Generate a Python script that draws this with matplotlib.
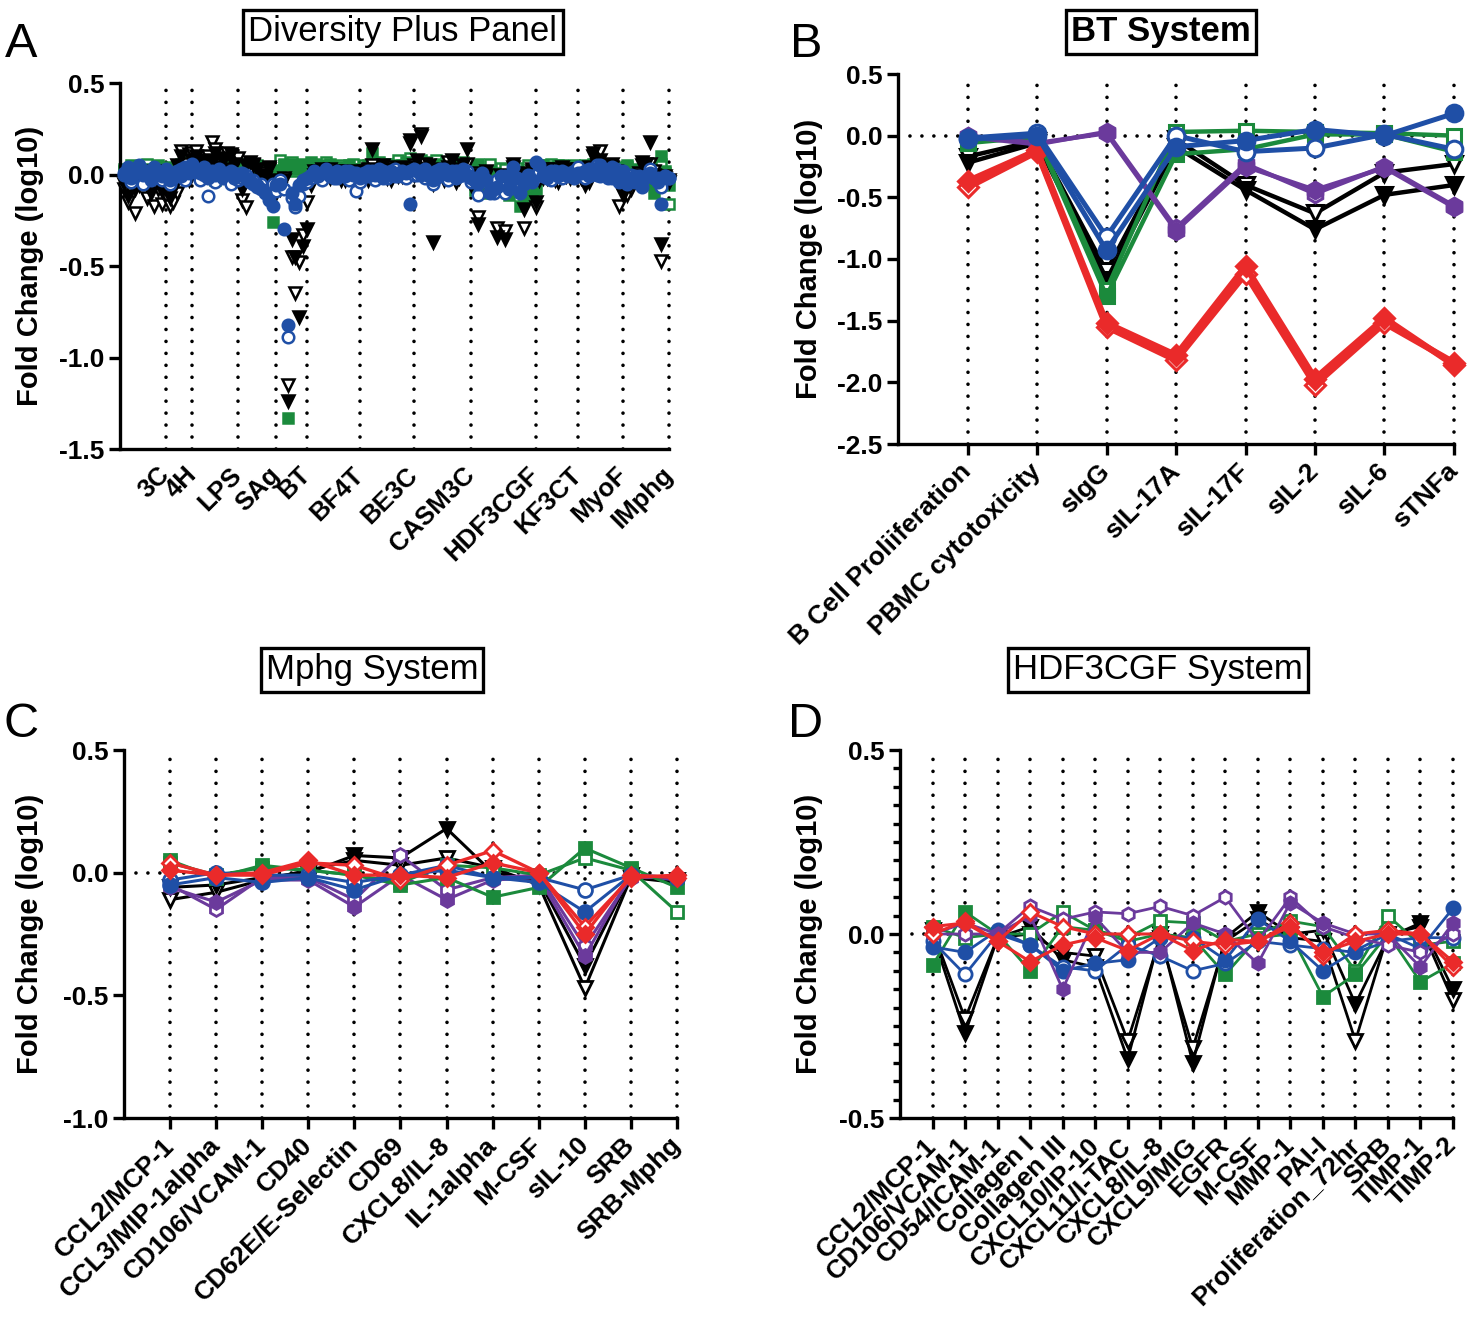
import matplotlib
matplotlib.use("Agg")
import matplotlib.pyplot as plt
from matplotlib.ticker import MultipleLocator

plt.rcParams['font.family'] = ['Liberation Sans', 'DejaVu Sans']

# ---------------- Panel B : BT system ----------------
bt_labels = ["B Cell Proliiferation", "PBMC cytotoxicity", "sIgG", "sIL-17A",
             "sIL-17F", "sIL-2", "sIL-6", "sTNFa"]
bt_black_filled = [-0.22, -0.06, -1.17, -0.09, -0.44, -0.76, -0.48, -0.40]
bt_black_open = [-0.17, -0.04, -1.10, -0.03, -0.40, -0.63, -0.30, -0.23]
bt_green_filled = [-0.06, -0.01, -1.30, -0.15, -0.11, 0.01, 0.01, -0.13]
bt_green_open = [-0.04, 0.00, -1.25, 0.03, 0.04, 0.03, 0.02, 0.00]
bt_blue_filled = [-0.03, 0.00, -0.93, -0.09, -0.04, 0.05, 0.00, 0.18]
bt_blue_open = [-0.02, 0.02, -0.82, 0.00, -0.13, -0.10, 0.01, -0.11]
bt_purple_filled = [0.00, -0.06, 0.02, -0.77, -0.25, -0.44, -0.26, -0.58]
bt_purple_open = [-0.01, -0.07, 0.03, -0.75, -0.23, -0.47, -0.25, -0.57]
bt_red_filled = [-0.37, -0.12, -1.52, -1.78, -1.06, -1.97, -1.48, -1.86]
bt_red_open = [-0.42, -0.13, -1.55, -1.82, -1.12, -2.02, -1.52, -1.84]

# ---------------- Panel C : Mphg system ----------------
mp_labels = ["CCL2/MCP-1", "CCL3/MIP-1alpha", "CD106/VCAM-1", "CD40",
             "CD62E/E-Selectin", "CD69", "CXCL8/IL-8", "IL-1alpha", "M-CSF",
             "sIL-10", "SRB", "SRB-Mphg"]
mp_black_filled = [-0.06, -0.05, -0.02, 0.00, 0.07, 0.06, 0.18, 0.00, -0.03, -0.38, -0.01, -0.03]
mp_black_open = [-0.11, -0.08, -0.03, 0.01, 0.05, 0.03, 0.06, 0.02, -0.05, -0.47, -0.02, -0.04]
mp_green_filled = [0.05, -0.02, 0.03, 0.01, -0.01, -0.05, -0.02, -0.10, -0.06, 0.10, 0.02, -0.06]
mp_green_open = [0.04, -0.01, 0.02, 0.01, -0.01, -0.04, 0.03, 0.02, -0.01, 0.06, 0.01, -0.16]
mp_blue_filled = [-0.05, -0.02, -0.04, -0.02, -0.07, -0.01, 0.01, -0.02, -0.04, -0.16, -0.01, -0.02]
mp_blue_open = [-0.03, 0.00, -0.01, -0.01, -0.04, -0.01, 0.03, -0.02, -0.02, -0.07, -0.01, -0.02]
mp_purple_filled = [-0.06, -0.12, -0.03, -0.03, -0.14, -0.01, -0.11, -0.03, -0.02, -0.34, -0.01, -0.03]
mp_purple_open = [-0.05, -0.15, -0.02, -0.02, -0.11, 0.07, -0.07, -0.02, -0.01, -0.30, -0.02, -0.02]
mp_red_filled = [0.01, -0.01, 0.00, 0.05, -0.01, -0.01, -0.02, 0.04, 0.00, -0.25, -0.01, -0.02]
mp_red_open = [0.04, -0.01, -0.01, 0.04, 0.03, -0.03, 0.03, 0.09, 0.00, -0.22, -0.02, -0.01]

# ---------------- Panel D : HDF3CGF system ----------------
hd_labels = ["CCL2/MCP-1", "CD106/VCAM-1", "CD54/ICAM-1", "Collagen I",
             "Collagen III", "CXCL10/IP-10", "CXCL11/I-TAC", "CXCL8/IL-8",
             "CXCL9/MIG", "EGFR", "M-CSF", "MMP-1", "PAI-I",
             "Proliferation_72hr", "SRB", "TIMP-1", "TIMP-2"]
hd_black_filled = [0.00, -0.27, -0.01, 0.02, -0.07, -0.09, -0.34, 0.00, -0.35, -0.01, 0.06, 0.00, 0.01, -0.19, -0.01, 0.03, -0.15]
hd_black_open = [0.01, -0.23, -0.01, 0.00, -0.05, -0.06, -0.29, -0.01, -0.31, -0.02, 0.04, -0.01, -0.02, -0.29, 0.00, 0.02, -0.18]
hd_green_filled = [-0.085, 0.06, 0.00, -0.10, 0.02, 0.01, -0.02, 0.00, -0.01, -0.11, -0.01, 0.00, -0.17, -0.11, 0.00, -0.13, -0.08]
hd_green_open = [0.02, -0.01, 0.00, 0.00, 0.06, 0.01, -0.01, 0.035, 0.03, -0.02, 0.00, 0.035, 0.02, -0.10, 0.05, -0.03, -0.02]
hd_blue_filled = [-0.035, -0.05, 0.01, -0.03, -0.10, -0.08, -0.07, -0.01, -0.01, -0.07, 0.04, -0.02, -0.10, -0.045, 0.00, -0.04, 0.07]
hd_blue_open = [-0.02, -0.11, 0.00, -0.03, -0.09, -0.10, -0.03, -0.06, -0.10, -0.08, -0.02, -0.03, -0.04, -0.05, -0.02, -0.01, -0.01]
hd_purple_filled = [0.00, 0.03, 0.00, 0.05, -0.15, 0.045, -0.05, -0.05, 0.03, 0.00, -0.08, 0.085, 0.03, 0.00, 0.00, -0.09, 0.03]
hd_purple_open = [0.00, 0.00, 0.00, 0.075, 0.04, 0.06, 0.055, 0.075, 0.05, 0.10, -0.02, 0.10, 0.02, -0.01, -0.03, -0.05, 0.00]
hd_red_filled = [0.02, 0.03, -0.02, -0.075, -0.03, -0.01, -0.045, 0.00, -0.045, -0.015, -0.02, 0.02, -0.05, -0.02, 0.00, 0.00, -0.075]
hd_red_open = [0.00, 0.035, -0.02, 0.06, 0.02, 0.00, 0.00, 0.00, -0.02, -0.03, -0.02, 0.03, -0.06, 0.00, 0.01, 0.00, -0.09]

# ---------------- Panel A : Diversity Plus panel ----------------
dp_systems = ["3C", "4H", "LPS", "SAg", "BT", "BF4T", "BE3C", "CASM3C",
              "HDF3CGF", "KF3CT", "MyoF", "IMphg"]
dp_black_filled = {
    "3C": [-0.05, -0.12, -0.02, -0.08, 0.01, -0.03, -0.06, -0.10, 0.02, -0.04, -0.09, -0.02],
    "4H": [-0.13, -0.08, 0.05, 0.10, 0.02, -0.03, 0.08],
    "LPS": [0.10, 0.05, 0.08, 0.03, 0.07, 0.12, 0.04, 0.09, 0.02, 0.11, 0.06, -0.02],
    "SAg": [-0.08, 0.05, 0.07, 0.06, 0.03, 0.00, -0.02, 0.04, -0.05, -0.03],
    "BT": [-0.05, -0.03, -1.24, -0.35, -0.45, -0.78, -0.39, -0.30],
    "BF4T": [-0.06, 0.02, -0.01, 0.03, 0.00, -0.02, 0.01, 0.02, -0.03, 0.00, 0.01, -0.04, 0.02, -0.01],
    "BE3C": [0.02, -0.03, 0.14, 0.03, 0.00, 0.05, -0.02, 0.03, 0.01, -0.01, 0.04, 0.02, 0.19, 0.00],
    "CASM3C": [0.08, 0.21, 0.03, 0.05, -0.37, 0.02, 0.00, -0.03, 0.04, 0.08, 0.02, -0.02, 0.05, 0.14, -0.01],
    "KF3CT": [0.02, -0.02, 0.03, 0.00, -0.03, 0.01, 0.04, -0.01, 0.02, 0.00, 0.03],
    "MyoF": [0.02, -0.06, 0.04, 0.12, 0.05, 0.08, 0.03, 0.00, 0.06, 0.02, -0.04, -0.11],
}
dp_black_open = {
    "3C": [-0.08, -0.15, -0.04, -0.21, -0.06, -0.02, -0.13, -0.05, -0.17, -0.08, -0.16, -0.12],
    "4H": [-0.17, -0.15, -0.10, 0.13, 0.06, 0.11, 0.12],
    "LPS": [0.13, 0.07, 0.02, 0.10, 0.18, 0.14, 0.05, 0.08, 0.12, 0.03, 0.06, 0.09],
    "SAg": [-0.14, -0.18, 0.02, 0.05, -0.03, 0.01, -0.06, 0.03, -0.04, -0.10],
    "BT": [-0.08, -0.02, -1.15, -0.45, -0.65, -0.48, -0.33, -0.15],
    "BF4T": [-0.03, 0.00, 0.02, -0.02, 0.01, 0.03, -0.01, 0.00, 0.02, -0.03, -0.02, 0.01, 0.00, -0.05],
    "BE3C": [0.00, 0.03, 0.05, -0.02, 0.02, 0.00, 0.04, -0.03, 0.01, 0.03, -0.01, 0.02, 0.17, 0.05],
    "CASM3C": [0.04, 0.22, 0.06, -0.02, -0.05, 0.01, 0.03, 0.00, 0.07, 0.02, -0.04, 0.03, 0.01, 0.06, -0.06],
    "KF3CT": [-0.03, 0.01, -0.02, 0.03, 0.00, -0.04, 0.02, 0.01, -0.02, 0.03, 0.00],
    "MyoF": [-0.02, 0.03, -0.04, 0.10, 0.02, 0.13, 0.05, 0.01, 0.04, -0.03, -0.17, -0.08],
}
dp_green_filled = {
    "3C": [0.02, -0.03, 0.04, 0.01, -0.02, 0.03, 0.00, -0.04, 0.02, 0.05, -0.01, 0.03],
    "4H": [0.02, -0.02, 0.03, 0.06, 0.00, 0.04, 0.05],
    "LPS": [0.04, 0.06, 0.02, 0.05, -0.02, 0.03, 0.01, 0.04, 0.00, 0.03, 0.02, 0.05],
    "SAg": [0.03, 0.05, 0.02, 0.06, 0.04, 0.01, -0.02, 0.03, -0.26, -0.05],
    "BT": [0.02, 0.05, -1.33, 0.06, 0.03, 0.05, 0.04, 0.02],
    "BF4T": [0.07, 0.04, 0.02, 0.05, 0.03, 0.06, 0.01, 0.04, 0.02, 0.03, 0.05, 0.01, 0.03, 0.02],
    "BE3C": [0.03, 0.05, 0.12, 0.04, 0.02, 0.06, 0.03, 0.01, 0.05, 0.02, 0.04, 0.07, 0.03, 0.02],
    "CASM3C": [0.04, 0.08, 0.02, 0.05, 0.01, 0.03, 0.06, 0.02, 0.04, 0.00, 0.05, 0.03, 0.06, 0.02, 0.03],
    "KF3CT": [0.03, 0.05, 0.02, 0.04, 0.01, 0.03, 0.05, 0.02, 0.04, 0.01, 0.03],
    "MyoF": [0.03, 0.01, 0.04, 0.06, 0.02, 0.05, 0.03, 0.04, 0.01, 0.03, -0.02, 0.02],
}
dp_green_open = {
    "3C": [0.03, 0.00, 0.05, -0.02, 0.04, 0.01, 0.06, 0.02, -0.03, 0.03, 0.02, 0.04],
    "4H": [0.01, 0.03, 0.00, 0.05, 0.07, 0.02, 0.04],
    "LPS": [0.06, 0.03, 0.05, 0.01, 0.04, -0.03, 0.05, 0.02, 0.04, 0.00, 0.03, 0.01],
    "SAg": [0.04, 0.06, 0.07, 0.03, 0.05, 0.02, 0.04, 0.00, -0.05, 0.03],
    "BT": [0.08, 0.06, 0.03, 0.07, 0.02, 0.04, 0.06, 0.05],
    "BF4T": [0.03, 0.06, 0.05, 0.02, 0.07, 0.03, 0.04, 0.01, 0.05, 0.02, 0.04, 0.06, 0.00, 0.03],
    "BE3C": [0.05, 0.02, 0.06, 0.03, 0.07, 0.01, 0.04, 0.06, 0.02, 0.08, 0.05, 0.03, 0.09, 0.04],
    "CASM3C": [0.06, 0.03, 0.07, 0.02, 0.04, 0.08, 0.03, 0.05, 0.01, 0.06, 0.04, 0.02, 0.07, 0.03, 0.05],
    "KF3CT": [0.05, 0.02, 0.04, 0.06, 0.03, 0.05, 0.01, 0.04, 0.02, 0.05, 0.03],
    "MyoF": [0.04, 0.05, 0.02, 0.03, 0.06, 0.02, 0.05, 0.03, 0.04, 0.01, 0.02, 0.04],
}
dp_blue_filled = {
    "3C": [0.01, 0.04, -0.02, 0.03, 0.05, 0.00, 0.02, -0.03, 0.04, 0.01, -0.01, 0.03],
    "4H": [-0.03, 0.00, 0.02, -0.01, 0.04, 0.01, 0.05],
    "LPS": [0.03, 0.01, 0.04, -0.02, 0.02, 0.00, 0.03, -0.01, 0.01, 0.02, -0.02, 0.00],
    "SAg": [0.01, -0.02, -0.03, -0.05, -0.06, -0.08, -0.10, -0.14, -0.17, -0.06],
    "BT": [-0.05, -0.30, -0.82, -0.10, -0.16, -0.06, -0.03, -0.02],
    "BF4T": [0.00, 0.02, -0.01, 0.01, 0.03, 0.00, -0.02, 0.02, 0.01, -0.01, 0.02, 0.00, 0.01, -0.02],
    "BE3C": [0.01, -0.01, 0.02, 0.00, 0.03, -0.02, 0.01, 0.02, -0.01, 0.00, 0.02, 0.01, -0.16, 0.03],
    "CASM3C": [0.02, 0.00, 0.03, -0.01, -0.03, 0.02, 0.01, 0.03, 0.00, 0.02, -0.02, 0.01, 0.03, 0.00, -0.02],
    "KF3CT": [0.05, 0.00, -0.02, 0.02, 0.01, -0.01, 0.02, 0.00, 0.01, -0.02, 0.01],
    "MyoF": [0.01, 0.02, -0.01, 0.03, 0.00, 0.05, 0.01, -0.02, 0.04, 0.00, -0.03, 0.02],
}
dp_blue_open = {
    "3C": [0.00, 0.03, -0.04, 0.02, 0.04, -0.05, 0.01, -0.02, 0.03, -0.01, -0.03, 0.02],
    "4H": [-0.05, -0.02, 0.01, 0.03, -0.03, 0.02, 0.06],
    "LPS": [0.02, -0.03, 0.00, -0.12, 0.01, -0.04, 0.02, -0.02, 0.00, -0.05, 0.01, -0.03],
    "SAg": [-0.02, 0.00, -0.04, -0.03, -0.07, -0.05, -0.09, -0.12, -0.05, -0.09],
    "BT": [-0.03, -0.08, -0.89, -0.13, -0.18, -0.12, -0.05, -0.04],
    "BF4T": [-0.02, 0.01, 0.00, -0.03, 0.02, -0.01, 0.01, -0.02, 0.00, 0.02, -0.03, 0.01, -0.09, -0.04],
    "BE3C": [-0.01, 0.02, 0.00, -0.03, 0.01, 0.02, -0.02, 0.00, 0.03, -0.01, 0.01, -0.02, 0.02, 0.00],
    "CASM3C": [0.00, 0.02, -0.02, 0.01, -0.05, -0.02, 0.03, 0.00, -0.03, 0.01, 0.02, -0.01, 0.00, 0.02, -0.04],
    "KF3CT": [0.02, -0.01, 0.01, -0.03, 0.02, 0.00, -0.02, 0.01, -0.01, 0.02, 0.04],
    "MyoF": [0.00, -0.02, 0.03, 0.01, 0.05, -0.01, 0.02, 0.00, -0.02, 0.03, -0.04, -0.03],
}

# detailed systems reused in panel A
detail_black_filled = {"HDF3CGF": hd_black_filled, "IMphg": mp_black_filled}
detail_black_open = {"HDF3CGF": hd_black_open, "IMphg": mp_black_open}
detail_green_filled = {"HDF3CGF": hd_green_filled, "IMphg": mp_green_filled}
detail_green_open = {"HDF3CGF": hd_green_open, "IMphg": mp_green_open}
detail_blue_filled = {"HDF3CGF": hd_blue_filled, "IMphg": mp_blue_filled}
detail_blue_open = {"HDF3CGF": hd_blue_open, "IMphg": mp_blue_open}

# ---------------- styling ----------------
BLACK = "#000000"
GREEN = "#1b8a3c"
BLUE = "#1f4fa6"
PURPLE = "#6b3a9c"
RED = "#ea2a2a"

W, H = 1468, 1317
fig = plt.figure(figsize=(W / 100, H / 100), dpi=100)


def axes_px(left, right, top, bottom):
    return fig.add_axes([left / W, 1 - bottom / H, (right - left) / W, (bottom - top) / H])


DOT = (0, (0.01, 3.3))


def base_style(ax, yticks, ylabels, ylim, xlim, label_x):
    if xlim is not None:
        ax.set_xlim(xlim)
    ax.set_ylim(ylim)
    for s in ["top", "right"]:
        ax.spines[s].set_visible(False)
    for s in ["left", "bottom"]:
        ax.spines[s].set_linewidth(2.4)
        ax.spines[s].set_capstyle("projecting")
    ax.set_yticks(yticks)
    ax.set_yticklabels(ylabels, fontweight="bold", fontsize=19)
    ax.tick_params(axis="both", which="major", direction="out", length=8, width=2.4,
                   colors="black", pad=3)
    ax.set_ylabel("Fold Change (log10)", fontweight="bold", fontsize=21)
    ax.yaxis.set_label_coords(label_x, 0.5)
    ax.patch.set_alpha(0)


def xlabels(ax, positions, labels, size, pad):
    ax.set_xticks(positions)
    ax.set_xticklabels(labels, rotation=45, ha="right", va="center",
                       rotation_mode="anchor", fontweight="bold", fontsize=size)
    ax.tick_params(axis="x", pad=pad)


def vlines(ax, xs):
    for x in xs:
        ax.axvline(x, color="black", lw=2.6, linestyle=DOT, dash_capstyle="round",
                   zorder=1, clip_on=False)


def draw_series(ax, xs, ys, color, marker, filled, ms, lw, mew, line=True, z=3):
    ax.plot(xs, ys, linestyle="-" if line else "none", color=color, lw=lw,
            marker=marker, ms=ms, mfc=color if filled else "white", mec=color,
            mew=mew, clip_on=False, zorder=z)


# ---------------- Panel A ----------------
axA = axes_px(120, 669, 83, 449)
base_style(axA, [-1.5, -1.0, -0.5, 0.0, 0.5], ["-1.5", "-1.0", "-0.5", "0.0", "0.5"],
           (-1.5, 0.5), None, -0.138)


def collect(general, detail):
    vals = []
    for s in dp_systems:
        vals += detail[s] if s in detail else general[s]
    return vals


counts = []
for s in dp_systems:
    counts.append(len(dp_black_filled[s]) if s in dp_black_filled else len(detail_black_filled[s]))
ends = []
tot = 0
for c in counts:
    tot += c
    ends.append(tot)
xA = list(range(1, tot + 1))
axA.set_xlim(0, tot)
vlines(axA, ends)
xlabels(axA, ends, dp_systems, 18.5, 16)
axA.tick_params(axis="x", length=0)

a_specs = [
    (collect(dp_green_open, detail_green_open), GREEN, "s", False, 7.5, 2),
    (collect(dp_green_filled, detail_green_filled), GREEN, "s", True, 7.5, 2),
    (collect(dp_black_open, detail_black_open), BLACK, "v", False, 8.5, 3),
    (collect(dp_black_filled, detail_black_filled), BLACK, "v", True, 8.5, 3),
    (collect(dp_blue_open, detail_blue_open), BLUE, "o", False, 8.3, 4),
    (collect(dp_blue_filled, detail_blue_filled), BLUE, "o", True, 8.3, 4),
]
for ys, col, mk, fl, ms, z in a_specs:
    draw_series(axA, xA, ys, col, mk, fl, ms, 0, 1.8, line=False, z=z)

# ---------------- Panel B ----------------
axB = axes_px(898, 1454, 74, 444)
base_style(axB, [-2.5, -2.0, -1.5, -1.0, -0.5, 0.0, 0.5],
           ["-2.5", "-2.0", "-1.5", "-1.0", "-0.5", "0.0", "0.5"],
           (-2.5, 0.5), (0, len(bt_labels)), -0.135)
xB = list(range(1, len(bt_labels) + 1))
vlines(axB, xB)
axB.axhline(0, color="black", lw=2.6, linestyle=DOT, dash_capstyle="round", zorder=1)
xlabels(axB, xB, bt_labels, 19, 9)
b_specs = [
    (bt_black_open, BLACK, "v", False, 12, 3.2),
    (bt_black_filled, BLACK, "v", True, 12, 3.2),
    (bt_green_open, GREEN, "s", False, 10.5, 3.2),
    (bt_green_filled, GREEN, "s", True, 10.5, 3.2),
    (bt_purple_open, PURPLE, "h", False, 12, 3.2),
    (bt_purple_filled, PURPLE, "h", True, 12, 3.2),
    (bt_red_open, RED, "D", False, 10, 4.5),
    (bt_red_filled, RED, "D", True, 10, 4.5),
    (bt_blue_open, BLUE, "o", False, 12, 3.6),
    (bt_blue_filled, BLUE, "o", True, 12, 3.6),
]
for i, (ys, col, mk, fl, ms, lw) in enumerate(b_specs):
    draw_series(axB, xB, ys, col, mk, fl, ms, lw, 2.2, z=3 + i)

# ---------------- Panel C ----------------
axC = axes_px(124, 677, 750, 1118)
base_style(axC, [-1.0, -0.5, 0.0, 0.5], ["-1.0", "-0.5", "0.0", "0.5"],
           (-1.0, 0.5), (0, len(mp_labels)), -0.145)
xC = list(range(1, len(mp_labels) + 1))
vlines(axC, xC)
axC.axhline(0, color="black", lw=2.6, linestyle=DOT, dash_capstyle="round", zorder=1)
xlabels(axC, xC, mp_labels, 19, 9)
c_specs = [
    (mp_black_open, BLACK, "v", False, 10, 2.2),
    (mp_black_filled, BLACK, "v", True, 10, 2.2),
    (mp_purple_open, PURPLE, "h", False, 10, 2.2),
    (mp_purple_filled, PURPLE, "h", True, 10, 2.2),
    (mp_green_open, GREEN, "s", False, 9, 2.2),
    (mp_green_filled, GREEN, "s", True, 9, 2.2),
    (mp_blue_open, BLUE, "o", False, 10, 2.2),
    (mp_blue_filled, BLUE, "o", True, 10, 2.2),
    (mp_red_open, RED, "D", False, 8, 2.4),
    (mp_red_filled, RED, "D", True, 8, 2.4),
]
for i, (ys, col, mk, fl, ms, lw) in enumerate(c_specs):
    draw_series(axC, xC, ys, col, mk, fl, ms, lw, 2.0, z=3 + i)

# ---------------- Panel D ----------------
axD = axes_px(900, 1453, 750, 1118)
base_style(axD, [-0.5, 0.0, 0.5], ["-0.5", "0.0", "0.5"],
           (-0.5, 0.5), (0, len(hd_labels)), -0.139)
axD.yaxis.set_minor_locator(MultipleLocator(0.05))
axD.tick_params(axis="y", which="minor", direction="out", length=5, width=2.4)
xD = list(range(1, len(hd_labels) + 1))
vlines(axD, xD)
axD.axhline(0, color="black", lw=2.6, linestyle=DOT, dash_capstyle="round", zorder=1)
xlabels(axD, xD, hd_labels, 19, 9)
d_specs = [
    (hd_black_open, BLACK, "v", False, 10, 2.0),
    (hd_black_filled, BLACK, "v", True, 10, 2.0),
    (hd_green_open, GREEN, "s", False, 9, 2.0),
    (hd_green_filled, GREEN, "s", True, 9, 2.0),
    (hd_blue_open, BLUE, "o", False, 9.5, 2.0),
    (hd_blue_filled, BLUE, "o", True, 9.5, 2.0),
    (hd_purple_open, PURPLE, "h", False, 9.5, 2.0),
    (hd_purple_filled, PURPLE, "h", True, 9.5, 2.0),
    (hd_red_open, RED, "D", False, 8, 2.2),
    (hd_red_filled, RED, "D", True, 8, 2.2),
]
for i, (ys, col, mk, fl, ms, lw) in enumerate(d_specs):
    draw_series(axD, xD, ys, col, mk, fl, ms, lw, 2.0, z=3 + i)

# ---------------- titles & panel letters ----------------
box = dict(boxstyle="square,pad=0.15", fc="white", ec="black", lw=2.4)
fig.text(403 / W, 1 - 32 / H, "Diversity Plus Panel", ha="center", va="center",
         fontsize=25, bbox=box)
fig.text(1161 / W, 1 - 32 / H, "BT System", ha="center", va="center",
         fontsize=25, fontweight="bold", bbox=box)
fig.text(372 / W, 1 - 670 / H, "Mphg System", ha="center", va="center",
         fontsize=25, bbox=box)
fig.text(1158 / W, 1 - 670 / H, "HDF3CGF System", ha="center", va="center",
         fontsize=25, bbox=box)

for lt, x, y in [("A", 21, 57), ("B", 806, 57), ("C", 21, 737), ("D", 806, 737)]:
    fig.text(x / W, 1 - y / H, lt, ha="center", va="baseline", fontsize=35)

fig.savefig("out.png", dpi=100)
